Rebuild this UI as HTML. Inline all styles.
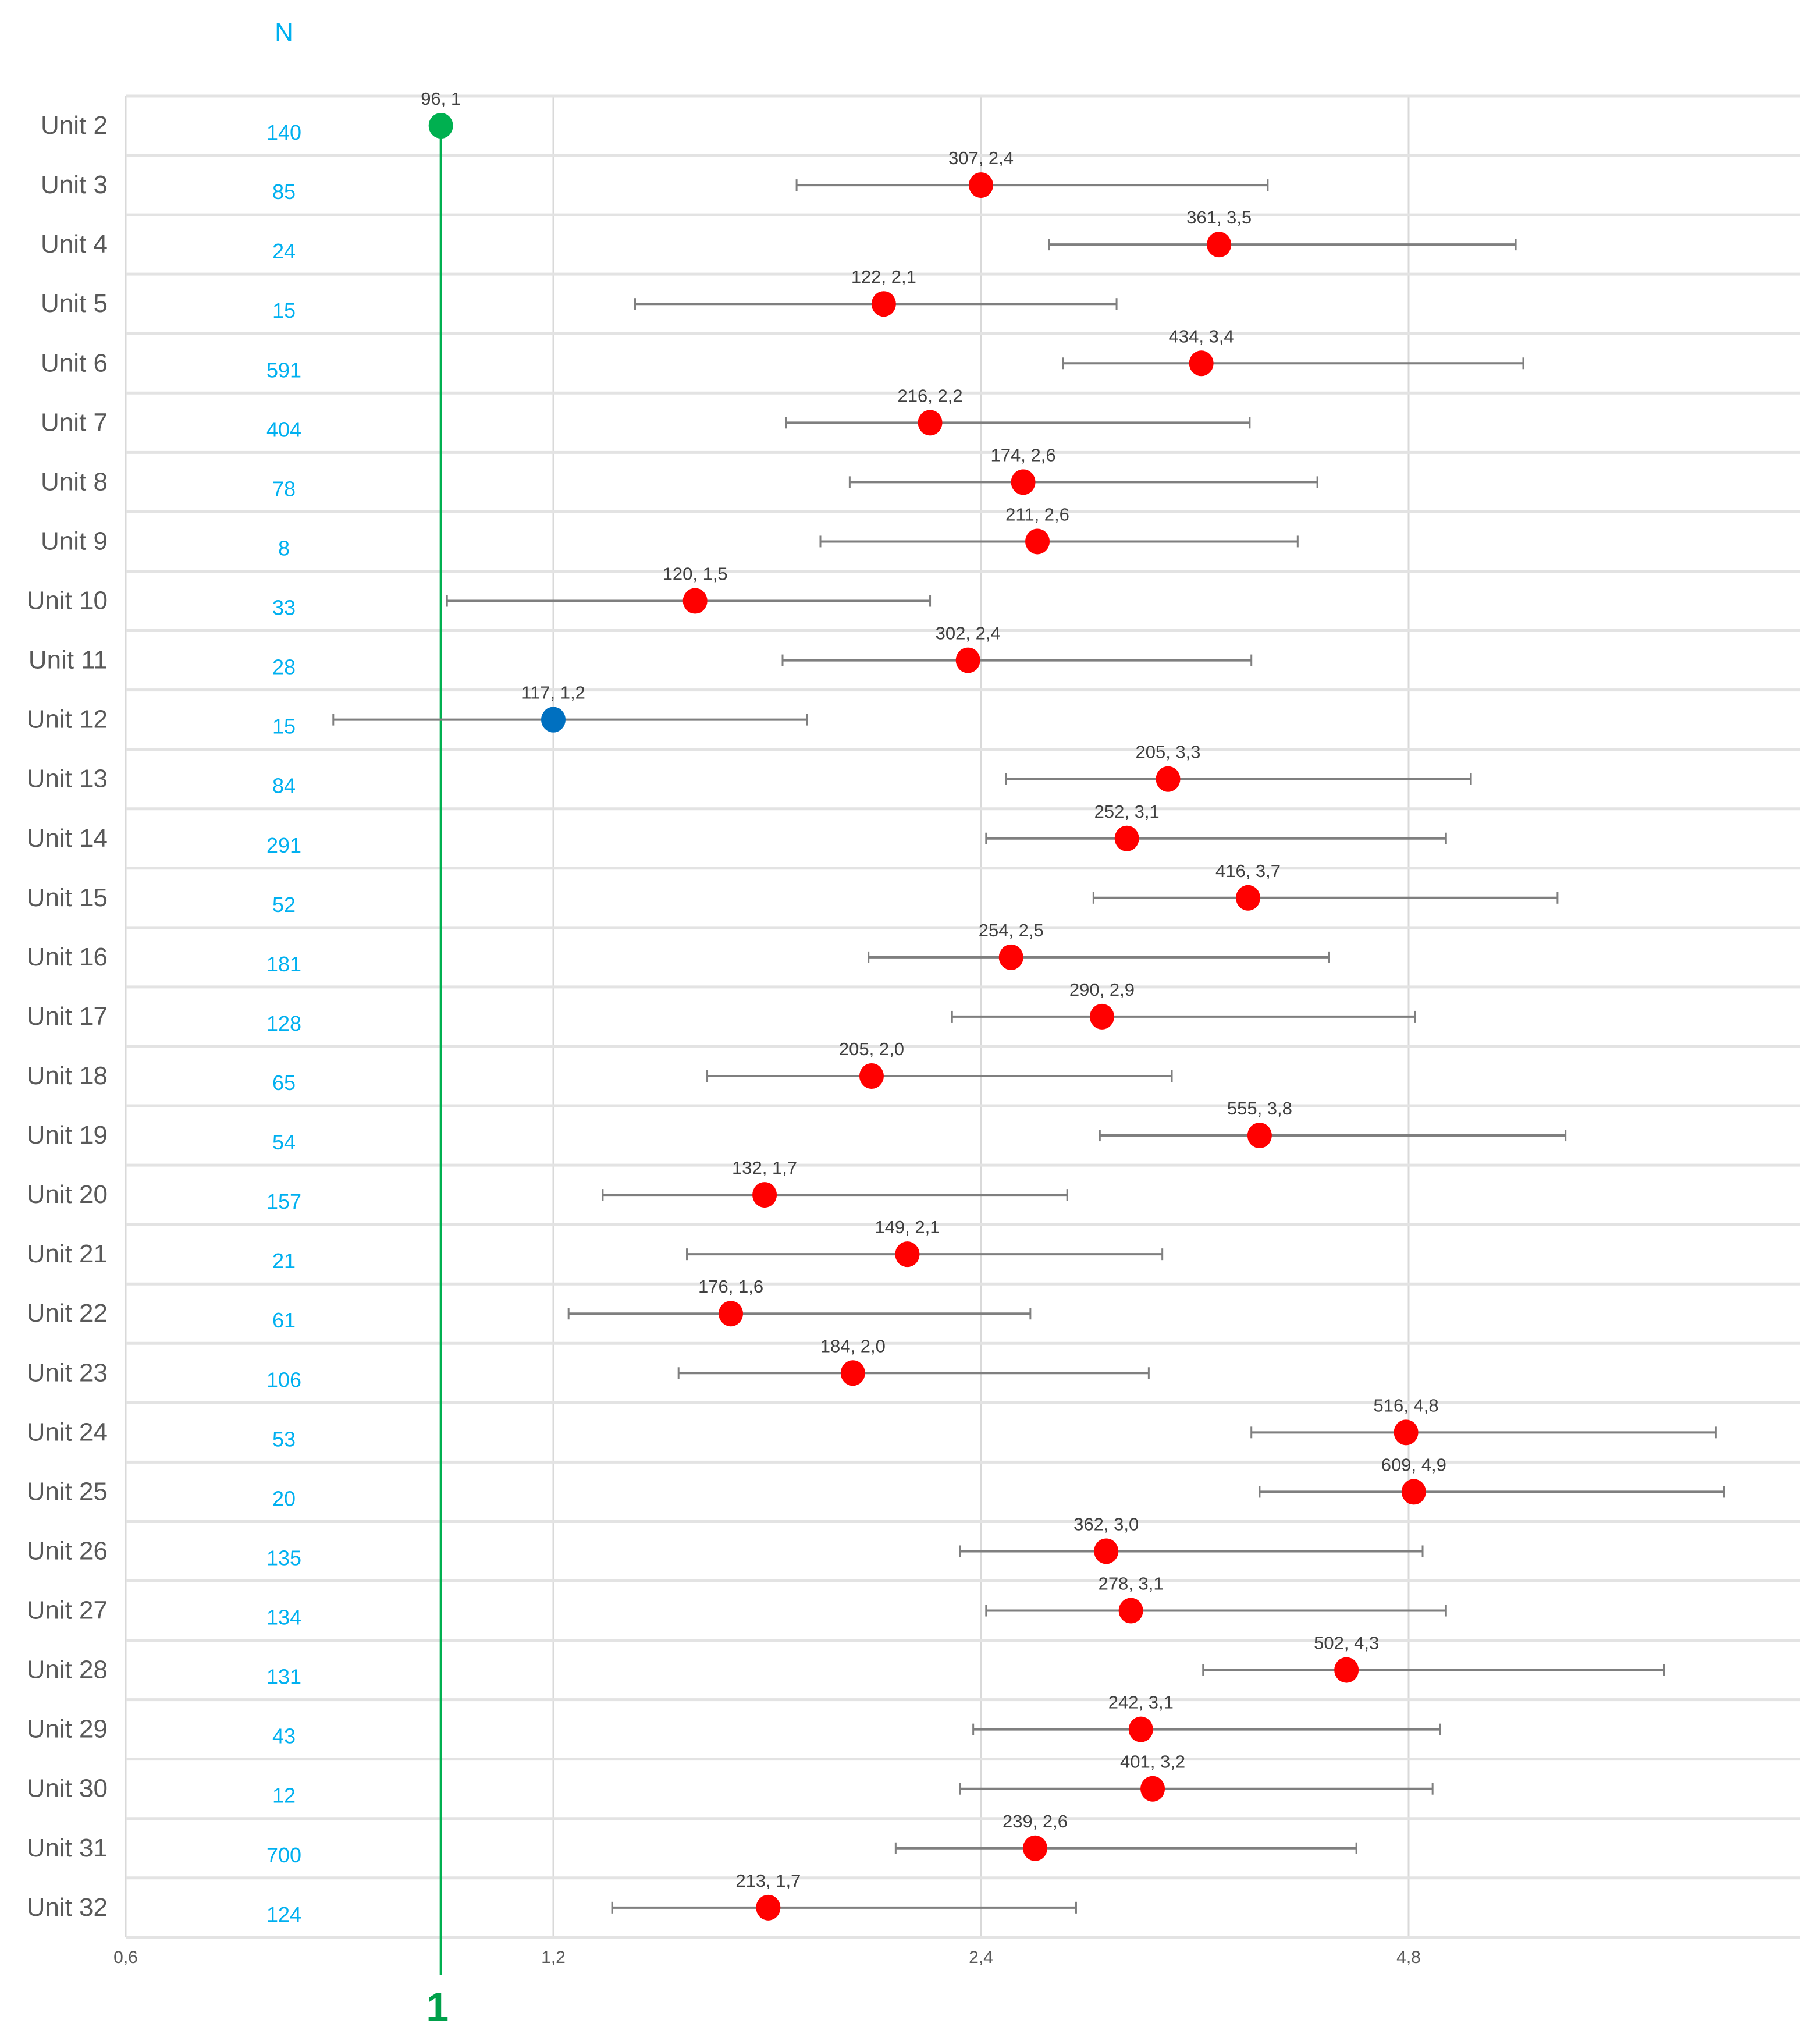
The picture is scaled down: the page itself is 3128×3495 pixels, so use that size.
<!DOCTYPE html>
<html><head><meta charset="utf-8"><style>
html,body{margin:0;padding:0;background:#fff;}
svg{display:block;font-family:"Liberation Sans",sans-serif;}
</style></head><body>
<svg id="chart" width="3128" height="3495" viewBox="0 0 3128 3495" xmlns="http://www.w3.org/2000/svg">
<text x="488" y="70" font-size="44" fill="#00b0f0" text-anchor="middle">N</text>
<g id="grid"></g>
<g id="rows"></g>
<g id="axis"></g>
</svg>
<script>
const units = ["Unit 2","Unit 3","Unit 4","Unit 5","Unit 6","Unit 7","Unit 8","Unit 9","Unit 10","Unit 11","Unit 12","Unit 13","Unit 14","Unit 15","Unit 16","Unit 17","Unit 18","Unit 19","Unit 20","Unit 21","Unit 22","Unit 23","Unit 24","Unit 25","Unit 26","Unit 27","Unit 28","Unit 29","Unit 30","Unit 31","Unit 32"];
const nValues = [140,85,24,15,591,404,78,8,33,28,15,84,291,52,181,128,65,54,157,21,61,106,53,20,135,134,131,43,12,700,124];
const labelN = [96,307,361,122,434,216,174,211,120,302,117,205,252,416,254,290,205,555,132,149,176,184,516,609,362,278,502,242,401,239,213];
const estimates = [1.0,2.40,3.53,2.05,3.43,2.21,2.57,2.63,1.51,2.35,1.2,3.25,3.04,3.70,2.52,2.92,2.01,3.77,1.69,2.13,1.60,1.95,4.78,4.84,2.94,3.06,4.34,3.11,3.17,2.62,1.70];
const lower = [null,1.78,2.68,1.37,2.74,1.75,1.94,1.85,1.01,1.74,0.84,2.50,2.42,2.88,2.00,2.29,1.54,2.91,1.30,1.49,1.23,1.47,3.72,3.77,2.32,2.42,3.44,2.37,2.32,2.09,1.32];
const upper = [null,3.82,5.71,2.99,5.78,3.71,4.14,4.01,2.21,3.72,1.81,5.31,5.10,6.11,4.22,4.85,3.27,6.19,2.76,3.22,2.60,3.15,7.90,8.00,4.91,5.10,7.26,5.05,4.99,4.41,2.80];
const labelEst = ["1","2,4","3,5","2,1","3,4","2,2","2,6","2,6","1,5","2,4","1,2","3,3","3,1","3,7","2,5","2,9","2,0","3,8","1,7","2,1","1,6","2,0","4,8","4,9","3,0","3,1","4,3","3,1","3,2","2,6","1,7"];
const ticks = [0.6,1.2,2.4,4.8];
const tickLabels = ["0,6","1,2","2,4","4,8"];
const refValue = 1;

const NS="http://www.w3.org/2000/svg";
const X0=216, PER_DOUBLING=735, TOP=165, ROWH=102.06, RIGHT=3094;
function xs(v){return X0+Math.log2(v/0.6)*PER_DOUBLING;}
function yc(i){return TOP+ROWH*(i+0.5);}
function mk(tag,attrs,parent){const e=document.createElementNS(NS,tag);for(const k in attrs)e.setAttribute(k,attrs[k]);parent.appendChild(e);return e;}
const grid=document.getElementById('grid'), rows=document.getElementById('rows'), axis=document.getElementById('axis');
const BOTTOM=TOP+ROWH*units.length;
ticks.forEach((t,i)=>{
  const l=mk('line',{x1:xs(t),x2:xs(t),y1:TOP,y2:BOTTOM,stroke:'#d9d9d9','stroke-width':3},grid);
  
  
  const tx=mk('text',{x:xs(t),y:BOTTOM+44,'font-size':30,fill:'#595959','text-anchor':'middle'},axis);
  tx.textContent=tickLabels[i];
  
  
});
for(let i=0;i<=units.length;i++){
  const l=mk('line',{x1:X0,x2:RIGHT,y1:TOP+ROWH*i,y2:TOP+ROWH*i,stroke:'#e3e3e3','stroke-width':5},grid);
  
  
}
const rl=mk('line',{x1:xs(refValue),x2:xs(refValue),y1:TOP+50,y2:BOTTOM+65,stroke:'#00b050','stroke-width':4},grid);


const rt=mk('text',{x:xs(refValue)-6,y:3473,'font-size':70,'font-weight':'bold',fill:'#00a04a','text-anchor':'middle'},axis);
rt.textContent='1';



units.forEach((u,i)=>{
  const y=yc(i);
  const g=mk('g',{},rows);
  
  
  const ul=mk('text',{x:185,y:y+14,'font-size':44,fill:'#595959','text-anchor':'end'},g);
  ul.textContent=u;
  
  
  const nl=mk('text',{x:488,y:y+24,'font-size':36,fill:'#00b0f0','text-anchor':'middle'},g);
  nl.textContent=nValues[i];
  
  
  if(lower[i]!==null){
    const a=xs(lower[i]), b=xs(upper[i]);
    const eb=mk('line',{x1:a,x2:b,y1:y,y2:y,stroke:'#7f7f7f','stroke-width':4},g);
    
    
    [a,b].forEach(c=>{
      const cap=mk('line',{x1:c,x2:c,y1:y-10,y2:y+10,stroke:'#7f7f7f','stroke-width':3},g);
      
      
    });
  }
  const e=estimates[i];
  const col = e<=1.0001 ? '#00b050' : (e<1.25 ? '#0070c0' : '#ff0000');
  const c=mk('ellipse',{cx:xs(e),cy:y,rx:21,ry:22,fill:col},g);
  
  
  const dl=mk('text',{x:xs(e),y:y-36,'font-size':31,fill:'#404040','text-anchor':'middle'},g);
  dl.textContent=labelN[i]+', '+labelEst[i];
  
  
});
</script>
</body></html>
